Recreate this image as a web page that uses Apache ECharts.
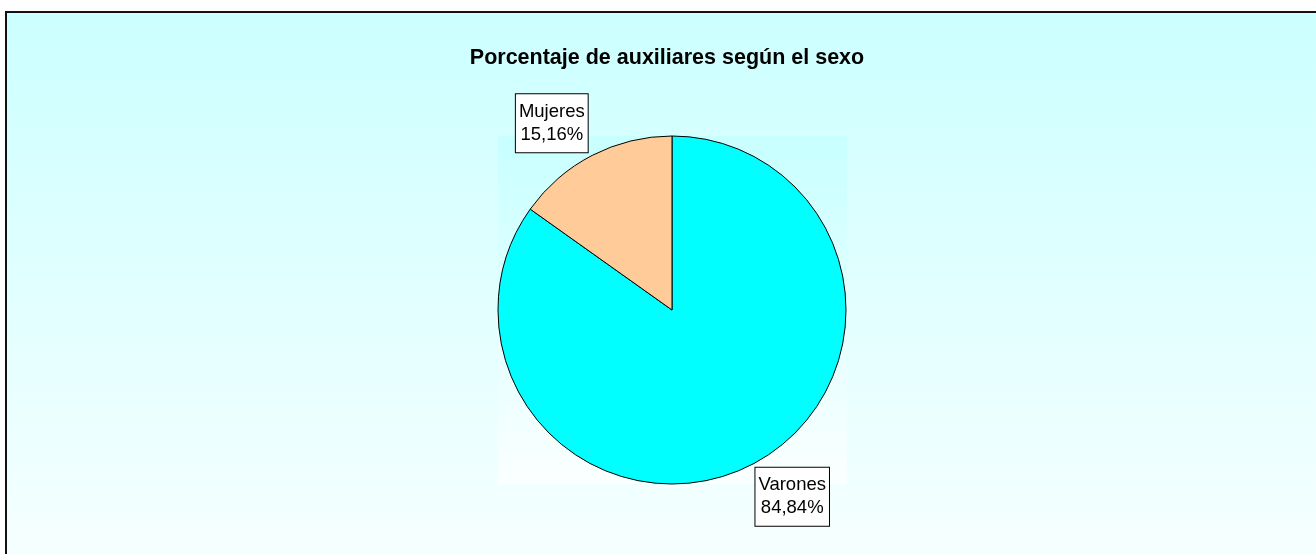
<!DOCTYPE html>
<html>
<head>
<meta charset="utf-8">
<script src="https://cdn.jsdelivr.net/npm/echarts@6/dist/echarts.min.js"></script>
<style>
html,body{margin:0;padding:0;background:#fff;}
#chart{width:1316px;height:554px;}
</style>
</head>
<body>
<div id="chart"></div>
<script>
const titleText = 'Porcentaje de auxiliares según el sexo';
const categories = ['Varones', 'Mujeres'];
const values = [84.84, 15.16];
const colors = ['#00FFFF', '#FFCC99'];

function fmt(v){ return v.toFixed(2).replace('.', ',') + '%'; }

const CX = 672, CY = 310;
const chart = echarts.init(document.getElementById('chart'), null, {renderer:'canvas'});
const option = {
  animation: false,
  title: {
    text: titleText,
    left: 662, top: 42, textAlign: 'center',
    textStyle: {fontFamily: 'Liberation Sans, Arial, sans-serif', fontSize: 21.5, fontWeight: 'bold', color: '#000'}
  },
  graphic: [
    {type:'rect', z:-10, shape:{x:6, y:12, width:1400, height:600},
     style:{fill:new echarts.graphic.LinearGradient(0,0,0,1,[{offset:0,color:'#ccffff'},{offset:0.9,color:'#f6ffff'},{offset:1,color:'#f8ffff'}]), stroke:'#111', lineWidth:2}},
    {type:'rect', z:-9, shape:{x:498, y:136, width:349, height:348},
     style:{fill:new echarts.graphic.LinearGradient(0,0,0,1,[{offset:0,color:'#c8ffff'},{offset:1,color:'#fbffff'}])}}
  ],
  series: [{
    type: 'pie',
    center: [CX, CY],
    radius: 174,
    startAngle: 90,
    clockwise: true,
    silent: true,
    data: categories.map((c,i)=>({name:c, value:values[i], itemStyle:{color:colors[i]}})),
    itemStyle: {borderColor:'#000', borderWidth:1},
    label: {
      show: true,
      position: 'outside',
      formatter: p => p.name + '\n' + fmt(p.value),
      fontFamily: 'Liberation Sans, Arial, sans-serif',
      fontSize: 18.5,
      lineHeight: 23,
      color: '#000',
      backgroundColor: '#fff',
      borderColor: '#000',
      borderWidth: 1,
      padding: [7, 3, 5, 3],
      align: 'center'
    },
    labelLine: {show:false, length:48, length2:0},
    labelLayout: function(params){
      const pts = params.labelLinePoints;
      if(!pts) return {};
      const dx = pts[1][0] - CX, dy = pts[1][1] - CY;
      const t = 5.5 * Math.PI / 180;
      const nx = dx*Math.cos(t) + dy*Math.sin(t);
      const ny = -dx*Math.sin(t) + dy*Math.cos(t);
      return {x: CX + nx, y: CY + ny, align:'center', verticalAlign:'middle'};
    }
  }]
};
chart.setOption(option);
</script>
</body>
</html>
